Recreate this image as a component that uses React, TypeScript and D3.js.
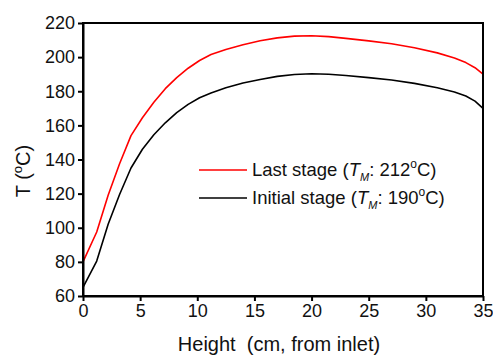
import { useEffect, useRef } from "react";
import * as d3 from "d3";

const heightCm = [0, 1.2, 2.2, 3.2, 4.2, 5.2, 6.2, 7.2, 8.2, 9.2, 10.2, 11.2, 12.5, 14, 15.5, 17, 18.5, 20, 21.5, 23, 25, 27, 29, 31, 32.5, 33.5, 34.3, 35];
const lastStage = [80, 97.5, 119, 137.5, 154, 164.5, 173.5, 181.5, 188, 193.5, 198, 201.5, 204.5, 207.3, 209.6, 211.3, 212.3, 212.5, 212, 211, 209.5, 207.8, 205.5, 202.5, 199.5, 196.8, 193.8, 190];
const initialStage = [65, 80.5, 102, 119.5, 135, 146, 154.5, 161.5, 167.5, 172.3, 176.2, 179, 182, 184.8, 186.9, 188.7, 189.8, 190.3, 190, 189.2, 188, 186.6, 184.6, 182, 179.6, 177.2, 174.2, 170];
const xTicks = [0, 5, 10, 15, 20, 25, 30, 35];
const yTicks = [60, 80, 100, 120, 140, 160, 180, 200, 220];

const W = 493;
const H = 357;
const FONT = "Arial, 'Liberation Sans', sans-serif";

export default function App() {
  const svgRef = useRef<SVGSVGElement>(null);

  useEffect(() => {
    if (!svgRef.current) return;
    const svg = d3.select(svgRef.current);
    svg.selectAll("*").remove();

    const margin = { top: 23, right: 10, bottom: 61, left: 83 };
    const cw = W - margin.left - margin.right;
    const ch = H - margin.top - margin.bottom;

    const g = svg.append("g").attr("transform", `translate(${margin.left},${margin.top})`);

    const x = d3.scaleLinear().domain([0, 35]).range([0, cw]);
    const y = d3.scaleLinear().domain([60, 220]).range([ch, 0]);

    const line = d3
      .line<number>()
      .x((_d, i) => x(heightCm[i]))
      .y((d) => y(d));

    g.append("path")
      .datum(initialStage)
      .attr("fill", "none")
      .attr("stroke", "#000")
      .attr("stroke-width", 1.6)
      .attr("stroke-linejoin", "round")
      .attr("d", line);

    g.append("path")
      .datum(lastStage)
      .attr("fill", "none")
      .attr("stroke", "#ff0000")
      .attr("stroke-width", 1.6)
      .attr("stroke-linejoin", "round")
      .attr("d", line);

    // frame
    g.append("rect")
      .attr("x", 0)
      .attr("y", 0)
      .attr("width", cw)
      .attr("height", ch)
      .attr("fill", "none")
      .attr("stroke", "#000")
      .attr("stroke-width", 2);

    const xAxis = g
      .append("g")
      .attr("transform", `translate(0,${ch})`)
      .call(d3.axisBottom(x).tickValues(xTicks).tickSize(5).tickSizeOuter(0).tickPadding(3));
    const yAxis = g
      .append("g")
      .call(d3.axisLeft(y).tickValues(yTicks).tickSize(5).tickSizeOuter(0).tickPadding(3));

    [xAxis, yAxis].forEach((ax) => {
      ax.select(".domain").attr("stroke-width", 2);
      ax.selectAll(".tick line").attr("stroke-width", 2);
      ax.selectAll("text")
        .attr("fill", "#111")
        .style("font-family", FONT)
        .style("font-size", "18px");
    });

    svg.append("text")
      .attr("x", 279)
      .attr("y", 351)
      .attr("text-anchor", "middle")
      .attr("fill", "#111")
      .style("font-family", FONT)
      .style("font-size", "20px")
      .style("white-space", "pre")
      .text("Height  (cm, from inlet)");

    const yt = svg.append("text")
      .attr("transform", `translate(30,171) rotate(-90)`)
      .attr("text-anchor", "middle")
      .attr("fill", "#111")
      .style("font-family", FONT)
      .style("font-size", "20px");
    yt.append("tspan").text("T (");
    yt.append("tspan").attr("dy", -8).style("font-size", "13px").text("o");
    yt.append("tspan").attr("dy", 8).text("C)");

    const legend = [
      { color: "#ff0000", label: "Last stage (", val: "212" },
      { color: "#000", label: "Initial stage (", val: "190" },
    ];
    legend.forEach((d, i) => {
      const ly = 170 + i * 28;
      svg.append("line")
        .attr("x1", 199)
        .attr("x2", 247)
        .attr("y1", ly)
        .attr("y2", ly)
        .attr("stroke", d.color)
        .attr("stroke-width", 1.6);
      const t = svg.append("text")
        .attr("x", 252)
        .attr("y", ly + 6)
        .attr("fill", "#111")
        .style("font-family", FONT)
        .style("font-size", "18.5px");
      t.append("tspan").text(d.label);
      t.append("tspan").style("font-style", "italic").text("T");
      t.append("tspan").attr("dy", 5).style("font-style", "italic").style("font-size", "11px").text("M");
      t.append("tspan").attr("dy", -5).text(": " + d.val);
      t.append("tspan").attr("dy", -8).style("font-size", "12px").text("o");
      t.append("tspan").attr("dy", 8).text("C)");
    });
  }, []);

  return (
    <svg
      ref={svgRef}
      width={W}
      height={H}
      style={{ position: "absolute", left: 0, top: 0, background: "#fff" }}
    />
  );
}
